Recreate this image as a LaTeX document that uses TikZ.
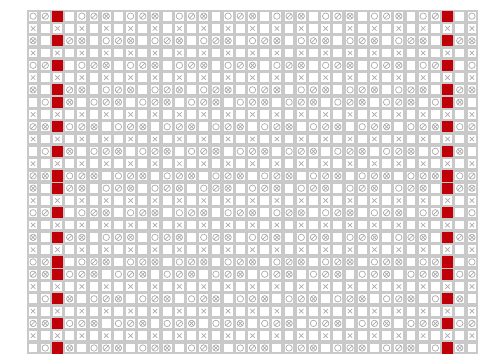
\documentclass[tikz,border=0pt]{standalone}
\usepackage{xcolor}
\definecolor{gridgray}{HTML}{C9C9C9}
\definecolor{symgray}{HTML}{ABABAB}
\definecolor{cellred}{HTML}{C00008}
\tikzset{
  redcell/.style={fill=cellred},
  whitecell/.style={fill=white},
  sym/.style={draw=symgray, line width=0.7pt},
}
\begin{document}
\begin{tikzpicture}[x=1pt,y=1pt]
\useasboundingbox (0,0) rectangle (499,356);
\fill[white] (0,0) rectangle (499,356);
\fill[gridgray] (27,2) rectangle (478,346);
\foreach \c in {0,...,36} {
  \foreach \r in {0,...,27} {
    \pgfmathsetmacro\cx{27+(\c+0.5)*12.19}
    \pgfmathsetmacro\cy{346-(\r+0.5)*12.29}
    \pgfmathtruncatemacro\m{mod(\r,7)}
    \pgfmathtruncatemacro\pat{(\m==0 || \m==2 || \m==4 || \m==6) ? 1 : 0}
    \pgfmathtruncatemacro\isred{((\c==2 || \c==34) && \pat==1) ? 1 : 0}
    \pgfmathtruncatemacro\k{mod(\c+\r,4)}
    \pgfmathtruncatemacro\j{mod(\c,2)}
    \ifnum\isred=1
      \fill[redcell] (\cx-5.6,\cy-5.6) rectangle (\cx+5.6,\cy+5.6);
    \else
      \fill[whitecell] (\cx-4.4,\cy-4.4) rectangle (\cx+4.4,\cy+4.4);
      \ifnum\pat=1
        \ifnum\k=0 \draw[sym] (\cx,\cy) circle (3.2); \fi
        \ifnum\k=1 \draw[sym] (\cx,\cy) circle (3.2) (\cx-2.3,\cy-2.3) -- (\cx+2.3,\cy+2.3); \fi
        \ifnum\k=2 \draw[sym] (\cx,\cy) circle (3.2) (\cx-2.3,\cy+2.3) -- (\cx+2.3,\cy-2.3) (\cx-2.3,\cy-2.3) -- (\cx+2.3,\cy+2.3); \fi
      \else
        \ifnum\j=0 \draw[sym] (\cx-2.2,\cy-2.2) -- (\cx+2.2,\cy+2.2) (\cx-2.2,\cy+2.2) -- (\cx+2.2,\cy-2.2); \fi
      \fi
    \fi
  }
}
\end{tikzpicture}
\end{document}
